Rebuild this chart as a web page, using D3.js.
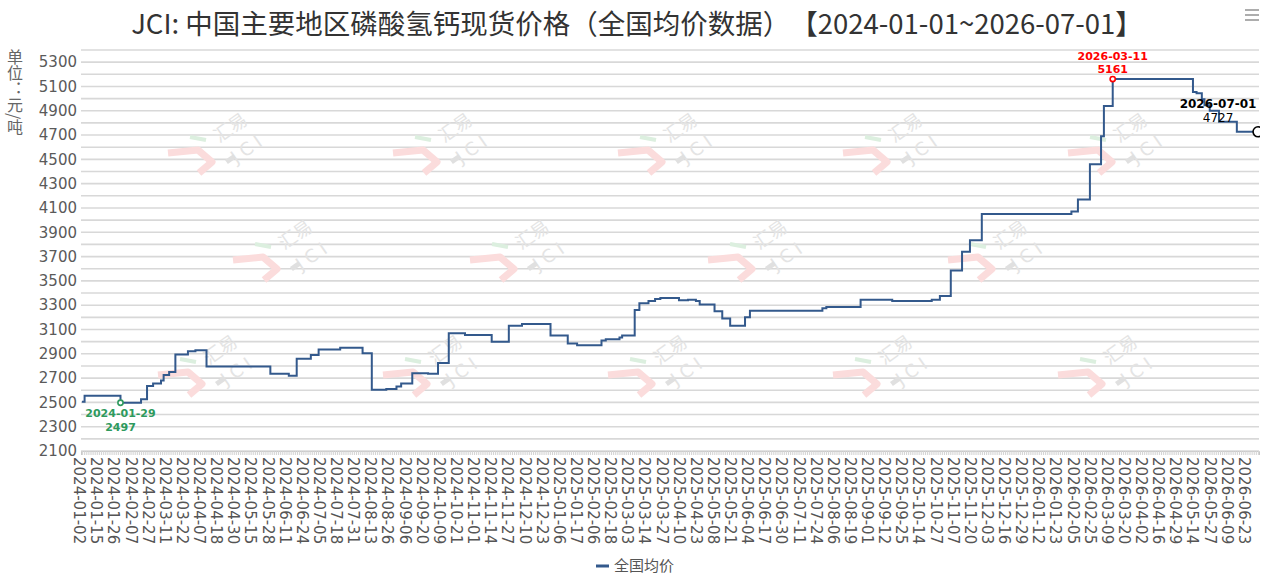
<!DOCTYPE html>
<html lang="zh">
<head>
<meta charset="utf-8">
<title>JCI 磷酸氢钙现货价格</title>
<script src="https://cdn.jsdelivr.net/npm/d3@7/dist/d3.min.js"></script>
<style>
  body { margin: 0; background: #fff; }
  svg { display: block; }
  .cjk { text-spacing-trim: space-all; }
</style>
</head>
<body>
<script>
// ---- data ----
var titleText = "JCI: 中国主要地区磷酸氢钙现货价格（全国均价数据）【2024-01-01~2026-07-01】";
var seriesName = "全国均价";
var yName = "单位：元/吨";

// category axis labels, one every 9 trading days
var xLabels = ["2024-01-02","2024-01-15","2024-01-26","2024-02-07","2024-02-27","2024-03-11","2024-03-22",
  "2024-04-07","2024-04-18","2024-04-30","2024-05-15","2024-05-28","2024-06-11","2024-06-24","2024-07-05",
  "2024-07-18","2024-07-31","2024-08-13","2024-08-26","2024-09-06","2024-09-20","2024-10-09","2024-10-21",
  "2024-11-01","2024-11-14","2024-11-27","2024-12-10","2024-12-23","2025-01-06","2025-01-17","2025-02-06",
  "2025-02-18","2025-03-03","2025-03-14","2025-03-27","2025-04-10","2025-04-23","2025-05-08","2025-05-21",
  "2025-06-04","2025-06-17","2025-06-30","2025-07-11","2025-07-24","2025-08-06","2025-08-19","2025-09-01",
  "2025-09-12","2025-09-25","2025-10-14","2025-10-27","2025-11-07","2025-11-20","2025-12-03","2025-12-16",
  "2025-12-29","2026-01-12","2026-01-23","2026-02-05","2026-02-25","2026-03-09","2026-03-20","2026-04-02",
  "2026-04-16","2026-04-29","2026-05-14","2026-05-27","2026-06-09","2026-06-23"];
var labelStep = 9;
var catCount = 619;          // trading days 2024-01-02 .. 2026-07-01
var lastDate = "2026-07-01";

// price changes (date the new price starts, price in 元/吨)
var changeDates = ["2024-01-02","2024-01-04","2024-01-29","2024-02-16","2024-02-23","2024-02-29","2024-03-06",
  "2024-03-08","2024-03-12","2024-03-16","2024-03-25","2024-04-01","2024-04-10","2024-05-28","2024-06-12",
  "2024-06-18","2024-06-28","2024-07-03","2024-07-19","2024-08-05","2024-08-12","2024-08-23","2024-08-30",
  "2024-09-02","2024-09-10","2024-09-24","2024-10-05","2024-10-14","2024-10-25","2024-11-13","2024-11-26",
  "2024-12-06","2024-12-28","2025-01-10","2025-01-16","2025-02-10","2025-02-13","2025-02-23","2025-02-25",
  "2025-03-06","2025-03-09","2025-03-15","2025-03-20","2025-03-24","2025-04-08","2025-04-15","2025-04-21",
  "2025-04-24","2025-05-07","2025-05-13","2025-05-19","2025-05-31","2025-06-04","2025-07-27","2025-07-30",
  "2025-08-25","2025-09-16","2025-10-22","2025-10-28","2025-11-04","2025-11-12","2025-11-18","2025-11-27",
  "2026-02-02","2026-02-08","2026-02-22","2026-03-03","2026-03-05","2026-03-11","2026-05-12","2026-05-15",
  "2026-05-19","2026-05-21","2026-05-25","2026-06-01","2026-06-15","2026-07-01"];
var changeValues = [2505,2555,2497,2525,2635,2655,2680,
  2725,2750,2895,2920,2930,2795,2735,2720,
  2860,2890,2935,2950,2905,2605,2610,2630,
  2655,2740,2735,2825,3070,3055,3000,3130,
  3145,3050,2985,2970,3010,3020,3035,3050,
  3260,3315,3335,3350,3360,3340,3345,3335,
  3305,3250,3190,3130,3200,3255,3275,3285,
  3345,3335,3345,3375,3585,3740,3835,4050,
  4070,4170,4460,4690,4940,5161,5055,5045,
  4995,4945,4900,4810,4727,4727];

// marked points: min, max, latest
var markDates = ["2024-01-29","2026-03-11","2026-07-01"];
var markValues = [2497,5161,4727];

var yTicks = [2100,2300,2500,2700,2900,3100,3300,3500,3700,3900,4100,4300,4500,4700,4900,5100,5300];
var yMin = 2100, yMax = 5400, yStep = 100;

// ---- layout ----
var svgWidth = 1273, svgHeight = 585;
var plotLeft = 81, plotRight = 1259, plotTop = 50, plotBottom = 451;
var lineColor = "#33598c";
var labelFont = "'DejaVu Sans', Verdana, sans-serif";
var cjkFont = "'Noto Sans CJK SC', 'Noto Sans', sans-serif";

var parse = d3.timeParse("%Y-%m-%d");

var svg = d3.select("body")
    .append("svg")
    .attr("width", svgWidth)
    .attr("height", svgHeight);

// category index -> pixel (band centres)
var xIdx = d3.scaleLinear()
    .domain([-0.5, catCount - 0.5])
    .range([plotLeft, plotRight]);

// date -> pixel, knotted at every labelled trading day
var knotDates = xLabels.map(parse).concat([parse(lastDate)]);
var knotIdx = xLabels.map(function(d, i) { return i * labelStep; }).concat([catCount - 1]);
var x = d3.scaleTime()
    .domain(knotDates)
    .range(knotIdx.map(xIdx));

var y = d3.scaleLinear()
    .domain([yMin, yMax])
    .range([plotBottom, plotTop]);

// title
svg.append("text")
    .attr("class", "cjk")
    .attr("x", 637)
    .attr("y", 34)
    .attr("text-anchor", "middle")
    .attr("font-family", cjkFont)
    .attr("font-size", "27.5px")
    .attr("fill", "#333")
    .text(titleText);

// toolbox icon
svg.selectAll("line.tool")
    .data([10, 15, 20])
    .enter()
    .append("line")
    .attr("class", "tool")
    .attr("x1", 1245).attr("x2", 1259)
    .attr("y1", function(d) { return d; })
    .attr("y2", function(d) { return d; })
    .attr("stroke", "#999")
    .attr("stroke-width", 1.6);

// grid lines
svg.append("g")
    .selectAll("line")
    .data(d3.range(yMin, yMax + 1, yStep))
    .enter()
    .append("line")
    .attr("x1", plotLeft)
    .attr("x2", plotRight)
    .attr("y1", function(d) { return y(d); })
    .attr("y2", function(d) { return y(d); })
    .attr("stroke", "#d8d8d8")
    .attr("stroke-width", 1.6);

// watermarks
var wmSpots = [[220,143],[445,143],[670,143],[895,143],[1120,143],
               [285,250],[522,250],[760,250],[1000,250],
               [210,365],[435,365],[660,365],[885,365],[1110,365]];
var wm = svg.append("g").selectAll("g")
    .data(wmSpots)
    .enter()
    .append("g")
    .attr("transform", function(d) { return "translate(" + d[0] + "," + d[1] + ")"; });
wm.append("path")
    .attr("d", "M-52,10 L-22,7 L-8,19 L-21,30")
    .attr("fill", "none")
    .attr("stroke", "#fbdcdc")
    .attr("stroke-width", 7)
    .attr("stroke-linejoin", "round");
wm.append("path")
    .attr("d", "M-30,-6 L-14,-3")
    .attr("stroke", "#dcefdf")
    .attr("stroke-width", 4);
wm.append("text")
    .attr("transform", "translate(14,-10) rotate(-35)")
    .attr("text-anchor", "middle")
    .attr("font-family", cjkFont)
    .attr("font-size", "18px")
    .attr("fill", "#e4e4e4")
    .text("汇易");
wm.append("text")
    .attr("transform", "translate(32,10) rotate(-35)")
    .attr("text-anchor", "middle")
    .attr("font-family", labelFont)
    .attr("font-size", "18px")
    .attr("letter-spacing", "5px")
    .attr("fill", "#e4e4e4")
    .text("JCI");
wm.append("rect")
    .attr("transform", "translate(5,17) rotate(-35)")
    .attr("width", 10).attr("height", 5)
    .attr("fill", "#e0e0e0");

// y axis labels
var yAxis = svg.append("g")
    .attr("transform", "translate(" + plotLeft + ",0)")
    .call(d3.axisLeft(y).tickValues(yTicks).tickSize(0).tickPadding(4).tickFormat(d3.format("d")));
yAxis.select(".domain").remove();
yAxis.selectAll("text")
    .attr("font-family", labelFont)
    .attr("font-size", "15px")
    .attr("fill", "#5a5a5a");

// y axis name, written vertically
svg.append("text")
    .attr("x", 15)
    .attr("y", 49)
    .attr("writing-mode", "vertical-rl")
    .attr("font-family", cjkFont)
    .attr("font-size", "16px")
    .attr("fill", "#666")
    .text(yName);

// x axis: line plus a tick on every trading day
var xTicks = svg.append("g")
    .attr("transform", "translate(0," + plotBottom + ")")
    .call(d3.axisBottom(xIdx).tickValues(d3.range(catCount)).tickSize(4).tickFormat(""));
xTicks.select(".domain").attr("stroke", "#c8c8c8");
xTicks.selectAll(".tick line").attr("stroke", "#d4d4d4");

// x axis labels, rotated
var xAxis = svg.append("g")
    .attr("transform", "translate(0," + plotBottom + ")")
    .call(d3.axisBottom(xIdx)
        .tickValues(xLabels.map(function(d, i) { return i * labelStep; }))
        .tickSize(0)
        .tickFormat(function(d) { return xLabels[d / labelStep]; }));
xAxis.select(".domain").remove();
xAxis.selectAll("text")
    .attr("transform", "rotate(90)")
    .attr("x", 6)
    .attr("y", 3)
    .attr("dy", "0.35em")
    .attr("text-anchor", "start")
    .attr("font-family", labelFont)
    .attr("font-size", "15px")
    .attr("fill", "#555");

// price line
var points = changeDates.map(function(d, i) {
    return { date: parse(d), value: changeValues[i] };
});
var line = d3.line()
    .x(function(d) { return x(d.date); })
    .y(function(d) { return y(d.value); })
    .curve(d3.curveStepAfter);
svg.append("path")
    .datum(points)
    .attr("d", line)
    .attr("fill", "none")
    .attr("stroke", lineColor)
    .attr("stroke-width", 2);

// mark points
svg.append("clipPath")
    .attr("id", "plotClip")
    .append("rect")
    .attr("x", 0).attr("y", 0)
    .attr("width", plotRight + 1).attr("height", svgHeight);

var markColors = ["#2e9a5e", "#ff0000", "#000"];
var markRadius = [2.6, 2.6, 5];
svg.selectAll("circle.mark")
    .data(markDates)
    .enter()
    .append("circle")
    .attr("class", "mark")
    .attr("cx", function(d) { return x(parse(d)); })
    .attr("cy", function(d, i) { return y(markValues[i]); })
    .attr("r", function(d, i) { return markRadius[i]; })
    .attr("fill", "#fff")
    .attr("stroke", function(d, i) { return markColors[i]; })
    .attr("stroke-width", 1.6)
    .attr("clip-path", "url(#plotClip)");

// mark labels: [dx, dy date, dy value, size, value weight]
var markLabel = [[0, 14, 28, 11, "bold"], [0, -19, -6, 11, "bold"], [-40, -24, -10, 12, "normal"]];
markDates.forEach(function(d, i) {
    var px = x(parse(d)) + markLabel[i][0];
    var py = y(markValues[i]);
    svg.append("text")
        .attr("x", px)
        .attr("y", py + markLabel[i][1])
        .attr("text-anchor", "middle")
        .attr("font-family", labelFont)
        .attr("font-size", markLabel[i][3] + "px")
        .attr("font-weight", "bold")
        .attr("fill", markColors[i])
        .text(d);
    svg.append("text")
        .attr("x", px)
        .attr("y", py + markLabel[i][2])
        .attr("text-anchor", "middle")
        .attr("font-family", labelFont)
        .attr("font-size", markLabel[i][3] + "px")
        .attr("font-weight", markLabel[i][4])
        .attr("fill", markColors[i])
        .text(markValues[i]);
});

// legend
svg.append("line")
    .attr("x1", 596).attr("x2", 609)
    .attr("y1", 566).attr("y2", 566)
    .attr("stroke", lineColor)
    .attr("stroke-width", 3);
svg.append("text")
    .attr("x", 614)
    .attr("y", 571)
    .attr("font-family", cjkFont)
    .attr("font-size", "15px")
    .attr("fill", "#555")
    .text(seriesName);
</script>
</body>
</html>
